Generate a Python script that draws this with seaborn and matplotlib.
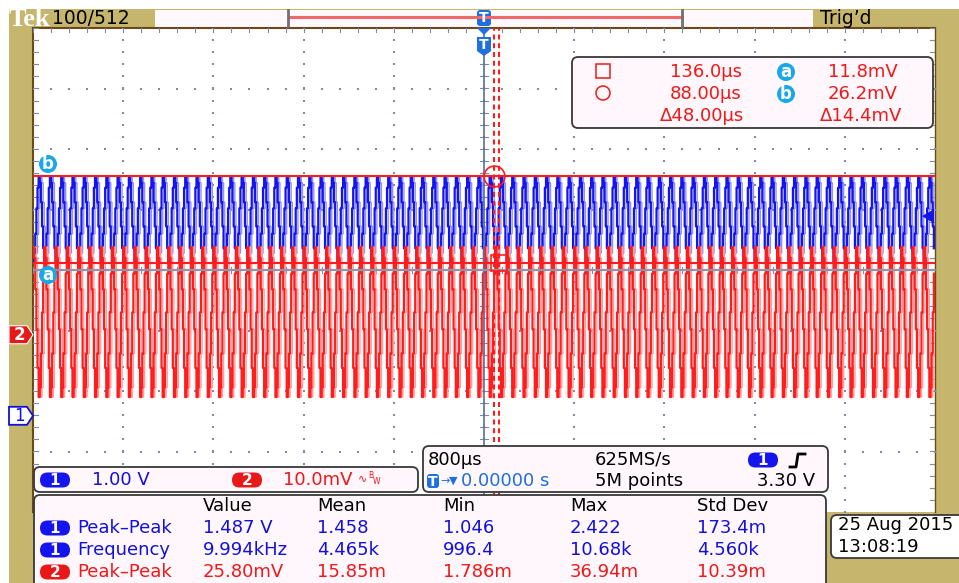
import numpy as np
import pandas as pd
import seaborn as sns
import matplotlib
matplotlib.use('Agg')
import matplotlib.pyplot as plt
from matplotlib.patches import Rectangle, FancyBboxPatch, Circle, Polygon

# scope settings
time_per_div_us = 800.0
ch2_mv_per_div = 10.0
ch1_ground_div = -2.41      # "1" marker on the left
ch2_ground_div = -1.07      # "2" marker on the left
n_cycles = 80               # ~10 kHz over 10 x 800 us

# one period of each trace (10 DAC steps), divisions above screen centre
ch1_cycle = [0.13, 0.28, 0.60, 1.02, 1.36, 1.54, 1.44, 1.12, 0.72, 0.36]
ch2_cycle = [0.38, 0.20, -0.32, -0.98, -1.62, -2.10, -1.94, -1.38, -0.70, -0.06]

# cursors
cursor_t_us = [88.0, 136.0]     # circle, square
cursor_v_mv = [26.2, 11.8]      # b, a
trig_level_v = 3.30

# measurement table
meas_ch = [1, 1, 2]
meas_name = ['Peak\u2013Peak', 'Frequency', 'Peak\u2013Peak']
meas_cols = ['Value', 'Mean', 'Min', 'Max', 'Std Dev']
meas_value = ['1.487 V', '9.994kHz', '25.80mV']
meas_mean = ['1.458', '4.465k', '15.85m']
meas_min = ['1.046', '996.4', '1.786m']
meas_max = ['2.422', '10.68k', '36.94m']
meas_std = ['173.4m', '4.560k', '10.39m']

GOLD = '#C6B56C'
BLUE = '#1414EE'
RED = '#FF1C1C'
TBLUE = '#1010E0'
TRED = '#F01818'
CYAN = '#18A8E8'
DOT = '#7D8BAA'
FS = 13

n = n_cycles * len(ch1_cycle)
dt = 10.0 / n
wave = pd.DataFrame({
    't_div': np.arange(n) * dt - 5.0,
    'ch1': np.tile(ch1_cycle, n_cycles),
    'ch2': np.tile(ch2_cycle, n_cycles),
})
wave['t_shadow'] = wave['t_div'] + 2 * dt

fig = plt.figure(figsize=(9.59, 5.83), dpi=100)
W, H = 959, 583

# background (pixel coords, y down)
bax = fig.add_axes([0, 0, 1, 1])
bax.set_xlim(0, W); bax.set_ylim(H, 0); bax.set_axis_off()
bax.add_patch(Rectangle((9, 9), W - 9, H, fc=GOLD, ec='none'))
bax.add_patch(Rectangle((33, 28), 902, 484, fc='white', ec='none'))
for x0, x1 in [(155, 287), (287, 682), (682, 813)]:
    bax.add_patch(Rectangle((x0, 10), x1 - x0, 17, fc='#FFF8FC', ec='none'))
bax.plot([33, 935], [28, 28], color='#6B4A1A', lw=1.5)
bax.plot([33, 33], [28, 512], color='#6B4A1A', lw=1.5)
bax.plot([935, 935], [28, 512], color='#6B4A1A', lw=1.0)

# graticule + traces (divisions)
gax = fig.add_axes([33 / W, 1 - 512 / H, 902 / W, 484 / H])
gax.patch.set_alpha(0)
min_x = np.arange(-5, 5.001, 0.2)
min_y = np.arange(-4, 4.001, 0.2)
for xm in range(-4, 5):
    gax.scatter(np.full(min_y.size, xm), min_y, s=1.6, marker='s', color=DOT, lw=0)
for ym in range(-3, 4):
    gax.scatter(min_x, np.full(min_x.size, ym), s=1.6, marker='s', color=DOT, lw=0)
for xv in min_x:
    gax.plot([xv, xv], [3.94, 4.0], color=DOT, lw=0.8)
    gax.plot([xv, xv], [-0.05, 0.05], color=DOT, lw=0.8)
for yv in min_y:
    gax.plot([-5, -4.94], [yv, yv], color=DOT, lw=0.8)
    gax.plot([4.94, 5], [yv, yv], color=DOT, lw=0.8)
    gax.plot([-0.04, 0.04], [yv, yv], color=DOT, lw=0.8)

# faint persistence copies, then the live traces
sns.lineplot(data=wave, x='t_shadow', y='ch1', ax=gax, color='#9090F6', lw=1.0,
             drawstyle='steps-post', estimator=None, sort=False, legend=False)
sns.lineplot(data=wave, x='t_div', y='ch1', ax=gax, color=BLUE, lw=1.6,
             drawstyle='steps-post', estimator=None, sort=False, legend=False)
sns.lineplot(data=wave, x='t_shadow', y='ch2', ax=gax, color='#FF9A9A', lw=1.0,
             drawstyle='steps-post', estimator=None, sort=False, legend=False)
sns.lineplot(data=wave, x='t_div', y='ch2', ax=gax, color=RED, lw=1.6,
             drawstyle='steps-post', estimator=None, sort=False, legend=False)

gax.axvline(0, color='#5A6E9E', lw=1.2, zorder=5)
gax.axhline(0, color='#8C96AA', lw=1.6, zorder=5)

# cursors
ct = [t / time_per_div_us for t in cursor_t_us]
cv = [v / ch2_mv_per_div + ch2_ground_div for v in cursor_v_mv]
for y in cv:
    gax.axhline(y, color=RED, lw=1.5, zorder=6)
for x in ct:
    gax.axvline(x, color=RED, lw=1.5, ls=(0, (2.4, 1.8)), zorder=6)
gax.plot(ct[0], cv[0], marker='o', ms=15, mfc='none', mec=RED, mew=1.2, zorder=7)
gax.plot(ct[1], cv[1], marker='s', ms=12, mfc='none', mec=RED, mew=1.2, zorder=7)
gax.set_xlim(-5, 5); gax.set_ylim(-4, 4)
gax.set_axis_off()

# overlay (pixel coords)
oax = fig.add_axes([0, 0, 1, 1])
oax.set_xlim(0, W); oax.set_ylim(H, 0); oax.set_axis_off()
oax.patch.set_alpha(0)


def box(x0, y0, x1, y1, fc='#FFF7FB'):
    oax.add_patch(FancyBboxPatch((x0, y0), x1 - x0, y1 - y0,
                                 boxstyle='round,pad=0,rounding_size=6',
                                 fc=fc, ec='#383838', lw=1.3))


def pill(x0, yc, color, label, w=30, h=15):
    oax.add_patch(FancyBboxPatch((x0, yc - h / 2), w, h,
                                 boxstyle=f'round,pad=0,rounding_size={h / 2}',
                                 fc=color, ec='none'))
    oax.text(x0 + w / 2, yc + 0.5, label, color='white', fontsize=11,
             weight='bold', ha='center', va='center')


def badge(xc, yc, label):
    oax.add_patch(Circle((xc, yc), 9, fc=CYAN, ec='none'))
    oax.text(xc, yc, label, color='white', fontsize=12, weight='bold',
             ha='center', va='center')


def ticon(x0, y0, w=14, h=16):
    oax.add_patch(FancyBboxPatch((x0, y0), w, h, boxstyle='round,pad=0,rounding_size=3',
                                 fc='#1E6FE0', ec='none'))
    oax.text(x0 + w / 2, y0 + h / 2 + 0.5, 'T', color='white', fontsize=10,
             weight='bold', ha='center', va='center')


# top bar
oax.text(9, 19, 'Tek', family='Liberation Serif', weight='bold', fontsize=19,
         color='white', va='center')
oax.text(52, 19, '100/512', fontsize=FS + 0.5, color='black', va='center')
oax.plot([289, 682], [17, 17], color='#F06868', lw=2.2)
oax.plot([288, 288], [10, 26], color='#707070', lw=2)
oax.plot([682, 682], [10, 26], color='#707070', lw=2)
oax.text(820, 19, "Trig\u2019d", fontsize=FS + 0.5, color='black', va='center')
ticon(477, 10)
oax.add_patch(Polygon([(477, 28), (491, 28), (484, 35)], fc='#1E6FE0', ec='none'))
oax.add_patch(Polygon([(477, 37), (491, 37), (491, 51), (484, 56), (477, 51)],
                      fc='#1E6FE0', ec='none'))
oax.text(484, 45, 'T', color='white', fontsize=10, weight='bold', ha='center', va='center')

# cursor readout
box(572, 57, 933, 128)
oax.add_patch(Rectangle((596, 64), 14, 14, fc='none', ec=TRED, lw=1.1))
oax.add_patch(Circle((603, 93), 7, fc='none', ec=TRED, lw=1.1))
oax.text(670, 72, f'{cursor_t_us[1]:.1f}\u00b5s', color=TRED, fontsize=FS, va='center')
oax.text(670, 94, f'{cursor_t_us[0]:.2f}\u00b5s', color=TRED, fontsize=FS, va='center')
oax.text(660, 116, f'\u0394{cursor_t_us[1] - cursor_t_us[0]:.2f}\u00b5s', color=TRED,
         fontsize=FS, va='center')
badge(786, 72, 'a')
badge(786, 94, 'b')
oax.text(828, 72, f'{cursor_v_mv[1]:.1f}mV', color=TRED, fontsize=FS, va='center')
oax.text(828, 94, f'{cursor_v_mv[0]:.1f}mV', color=TRED, fontsize=FS, va='center')
oax.text(820, 116, f'\u0394{cursor_v_mv[0] - cursor_v_mv[1]:.1f}mV', color=TRED,
         fontsize=FS, va='center')

# left-side markers
badge(48, 164, 'b')
badge(48, 275, 'a')
y2 = 270 - ch2_ground_div * 60.5
y1 = 270 - ch1_ground_div * 60.5
oax.add_patch(Polygon([(9, y2 - 9), (27, y2 - 9), (33, y2), (27, y2 + 9), (9, y2 + 9)],
                      fc='#E81818', ec='white', lw=0.8))
oax.text(19, y2 + 0.5, '2', color='white', fontsize=12, weight='bold', ha='center', va='center')
oax.add_patch(Polygon([(9, y1 - 9), (27, y1 - 9), (33, y1), (27, y1 + 9), (9, y1 + 9)],
                      fc='white', ec=TBLUE, lw=1.3))
oax.text(19, y1 + 0.5, '1', color=TBLUE, fontsize=12, ha='center', va='center')
yt = 270 - (ch1_ground_div + trig_level_v) * 60.5
oax.add_patch(Polygon([(922, yt), (934, yt - 7), (934, yt + 7)], fc=BLUE, ec='none'))

# channel scale box
box(34, 467, 418, 492)
pill(40, 480, BLUE, '1')
oax.text(92, 480, '1.00 V', color=TBLUE, fontsize=FS, va='center')
pill(232, 480, '#E81818', '2')
oax.text(283, 480, '10.0mV', color=TRED, fontsize=FS, va='center')
oax.text(358, 478, '\u223f', color=TRED, fontsize=8, va='center')
oax.text(368, 475, 'B', color=TRED, fontsize=5.5, va='center')
oax.text(373, 482, 'W', color=TRED, fontsize=5.5, va='center')

# timebase box
box(423, 446, 828, 492)
oax.text(428, 460, f'{time_per_div_us:.0f}\u00b5s', color='black', fontsize=FS, va='center')
oax.text(595, 460, '625MS/s', color='black', fontsize=FS, va='center')
pill(748, 460, BLUE, '1')
oax.plot([790, 796, 798, 805], [467, 467, 454, 454], color='black', lw=2)
ticon(427, 474, w=12, h=14)
oax.text(440, 481, '\u2192', color='#1E6FE0', fontsize=8, va='center')
oax.text(449, 481, '\u25bc', color='#1E6FE0', fontsize=8, va='center')
oax.text(461, 481, '0.00000 s', color='#1E6FE0', fontsize=FS, va='center')
oax.text(595, 481, '5M points', color='black', fontsize=FS, va='center')
oax.text(815, 481, f'{trig_level_v:.2f} V', color='black', fontsize=FS, va='center', ha='right')

# measurement box
box(34, 495, 826, 600)
col_x = [203, 317, 443, 570, 697]
for x, c in zip(col_x, meas_cols):
    oax.text(x, 506, c, color='black', fontsize=FS, va='center')
row_y = [528, 550, 572]
for i, y in enumerate(row_y):
    col = TBLUE if meas_ch[i] == 1 else TRED
    pill(40, y, BLUE if meas_ch[i] == 1 else '#E81818', str(meas_ch[i]))
    oax.text(77, y, meas_name[i], color=col, fontsize=FS, va='center')
    for x, vals in zip(col_x, [meas_value, meas_mean, meas_min, meas_max, meas_std]):
        oax.text(x, y, vals[i], color=col, fontsize=FS, va='center')

# date box
box(831, 515, 975, 558, fc='white')
oax.text(838, 525, '25 Aug 2015', color='black', fontsize=FS, va='center')
oax.text(838, 547, '13:08:19', color='black', fontsize=FS, va='center')

fig.savefig('out.png', dpi=100)
